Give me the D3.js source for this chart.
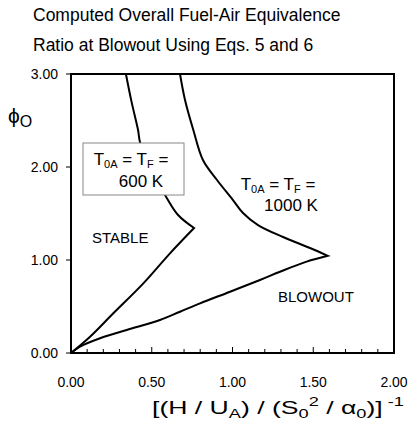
<!DOCTYPE html>
<html>
<head>
<meta charset="utf-8">
<script src="https://cdn.jsdelivr.net/npm/d3@7"></script>
<style>
  body { margin: 0; background: #fff; }
  text { font-family: "Liberation Sans", Arial, sans-serif; fill: #000; }
</style>
</head>
<body>
<div id="chart"></div>
<script>
// Curve data: [x, phi], each split at the blowout tip
const upper600 = [[0.34, 3.0], [0.375, 2.7], [0.415, 2.40], [0.427, 2.27], [0.50, 1.95], [0.582, 1.70],
  [0.663, 1.484], [0.762, 1.344]];
const lower600 = [[0.762, 1.344], [0.613, 1.072], [0.448, 0.749], [0.262, 0.427], [0.118, 0.175], [0, 0]];
const upper1000 = [[0.675, 3.0], [0.706, 2.72], [0.757, 2.40], [0.817, 2.075], [0.904, 1.86], [1.003, 1.645],
  [1.065, 1.505], [1.158, 1.376], [1.313, 1.247], [1.48, 1.129], [1.59, 1.045]];
const lower1000 = [[1.59, 1.045], [1.459, 0.982], [1.294, 0.874], [1.17, 0.785], [0.985, 0.659], [0.799, 0.534],
  [0.675, 0.444], [0.551, 0.355], [0.345, 0.247], [0.18, 0.158], [0.056, 0.068], [0, 0]];
const xTicks = [0, 0.5, 1.0, 1.5, 2.0];
const xMinor = d3.range(1, 20).map(i => i / 10);
const yTicks = [0, 1, 2, 3];
const titleLines = ["Computed Overall Fuel-Air Equivalence", "Ratio at Blowout Using Eqs. 5 and 6"];

// Dimensions
let w = 408, h = 434;
let m = { left: 71, right: 14, top: 74, bottom: 81 };

let svg = d3.select("#chart").append("svg").attr("width", w).attr("height", h);

// Scales
let x = d3.scaleLinear().domain([0, 2]).range([m.left, w - m.right]);
let y = d3.scaleLinear().domain([0, 3]).range([h - m.bottom, m.top]);

// Title
svg.selectAll("text.title").data(titleLines).enter().append("text")
  .attr("class", "title").attr("x", 33).attr("y", (d, i) => 21 + i * 30)
  .style("font-size", "17.5px").text(d => d);

// Curves: smooth branches joined with a sharp tip
let line = d3.line().x(d => x(d[0])).y(d => y(d[1])).curve(d3.curveCatmullRom.alpha(0.5));
[[upper600, lower600], [upper1000, lower1000]].forEach(([a, b]) => {
  let dA = line(a), dB = line(b).replace(/^M[^A-Za-z]*/, "");
  svg.append("path").attr("d", dA + dB).attr("fill", "none")
    .attr("stroke", "#000").attr("stroke-width", 2).attr("stroke-linejoin", "miter");
});

// X axis: ticks pointing inward
let xAxis = svg.append("g").attr("transform", `translate(0,${y(0)})`);
xAxis.selectAll("line.minor").data(xMinor).enter().append("line")
  .attr("x1", d => x(d)).attr("x2", d => x(d)).attr("y1", 0)
  .attr("y2", d => (Math.round(d * 10) % 5 == 0) ? -6 : -4)
  .attr("stroke", "#000").attr("stroke-width", 1);
xAxis.selectAll("text").data(xTicks).enter().append("text")
  .attr("x", d => x(d)).attr("y", 34).attr("text-anchor", "middle")
  .style("font-size", "14px").text(d => d3.format(".2f")(d));

// Y axis: ticks pointing outward
let yAxis = svg.append("g").attr("transform", `translate(${x(0)},0)`);
yAxis.selectAll("line").data(yTicks).enter().append("line")
  .attr("x1", -5).attr("x2", 0).attr("y1", d => y(d)).attr("y2", d => y(d))
  .attr("stroke", "#000").attr("stroke-width", 1);
yAxis.selectAll("text").data(yTicks).enter().append("text")
  .attr("x", -13).attr("y", d => y(d) + 5).attr("text-anchor", "end")
  .style("font-size", "14px").text(d => d3.format(".2f")(d));

// Frame
svg.append("rect").attr("x", x(0)).attr("y", y(3)).attr("width", x(2) - x(0)).attr("height", y(0) - y(3))
  .attr("fill", "none").attr("stroke", "#000").attr("stroke-width", 2);

// Label box for 600 K
svg.append("rect").attr("x", 83).attr("y", 143).attr("width", 101).attr("height", 52)
  .attr("fill", "#fff").attr("stroke", "#888").attr("stroke-width", 1);

function tempLabel(cx, y1, cx2, y2, tempText) {
  let t = svg.append("text").attr("x", cx).attr("y", y1).attr("text-anchor", "middle").style("font-size", "17px");
  t.append("tspan").text("T");
  t.append("tspan").attr("dy", 3).style("font-size", "11px").text("0A");
  t.append("tspan").attr("dy", -3).text(" = T");
  t.append("tspan").attr("dy", 3).style("font-size", "11px").text("F");
  t.append("tspan").attr("dy", -3).text(" =");
  svg.append("text").attr("x", cx2).attr("y", y2).attr("text-anchor", "middle")
    .style("font-size", "17px").text(tempText);
}
tempLabel(131, 165, 141, 187, "600 K");
tempLabel(278, 190, 291, 211, "1000 K");

// Region labels
svg.append("text").attr("x", 92).attr("y", 243).style("font-size", "15px").text("STABLE");
svg.append("text").attr("x", 278).attr("y", 302).style("font-size", "15px").text("BLOWOUT");

// Y axis title
let yt = svg.append("text").attr("x", 8).attr("y", 123).style("font-size", "21px");
yt.append("tspan").text("\u03D5");
yt.append("tspan").attr("dy", 4).style("font-size", "16px").text("O");

// X axis title, stretched to the width it has in the picture
let xg = svg.append("g");
let xt = xg.append("text").attr("x", 0).attr("y", 0).style("font-size", "19px");
xt.append("tspan").text("[(H / U");
xt.append("tspan").attr("dy", 4).style("font-size", "13px").text("A");
xt.append("tspan").attr("dy", -4).text(") / (S");
xt.append("tspan").attr("dy", 4).style("font-size", "13px").text("0");
xt.append("tspan").attr("dy", -12).style("font-size", "13px").text("2");
xt.append("tspan").attr("dy", 8).text(" / \u03B1");
xt.append("tspan").attr("dy", 4).style("font-size", "13px").text("0");
xt.append("tspan").attr("dy", -4).text(")]");
xt.append("tspan").attr("dy", -8).style("font-size", "13px").text("  -1");
let bw = xt.node().getBBox().width;
xg.attr("transform", `translate(152,414) scale(${252 / bw},1)`);
</script>
</body>
</html>
